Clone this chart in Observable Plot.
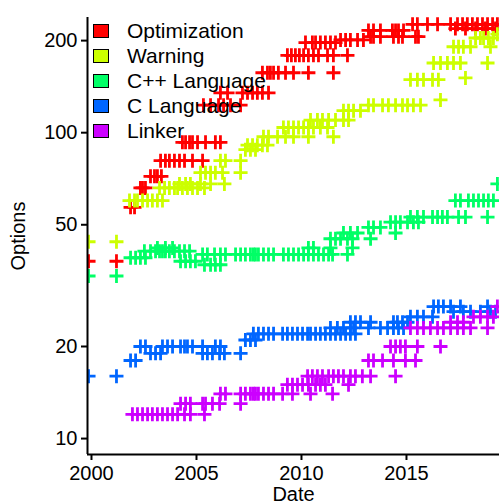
<!DOCTYPE html>
<html><head><meta charset="utf-8">
<script src="https://cdn.jsdelivr.net/npm/d3@7"></script>
<script src="https://cdn.jsdelivr.net/npm/@observablehq/plot@0.6"></script>
<style>
body{margin:0;background:#fff;}
#wrap{position:relative;width:499px;height:504px;font-family:"Liberation Sans",Arial,sans-serif;}
#legend{position:absolute;left:93px;top:18px;}
.row{display:flex;align-items:center;height:25px;font-size:21px;color:#000;line-height:25px;}
.sw{width:14px;height:12px;border:1px solid #000;margin-right:18px;}
</style></head><body><div id="wrap"><div id="legend"></div></div>
<script>
const categories = ["Optimization","Warning","C++ Language","C Language","Linker"];
const colors = ["#FF0000","#CCFF00","#00FF66","#0066FF","#CC00FF"];
const xTicks = [2000,2005,2010,2015];
const yTicks = [10,20,50,100,200];

const optimization = [
 [1999.86,38],[2001.19,38],[2001.86,57],[2002.05,57],
 [2002.33,66],[2002.43,66],[2002.57,66],
 [2002.81,72],[2003.00,72],[2003.14,72],[2003.33,72],
 [2003.29,81],[2003.52,81],[2003.71,81],[2003.95,81],[2004.19,81],[2004.43,81],[2004.81,81],[2005.29,81],
 [2004.33,93],[2004.48,93],[2004.67,93],[2004.81,93],[2005.05,93],[2005.43,93],[2005.90,93],[2006.14,93],
 [2005.33,123],[2005.67,123],[2006.05,123],[2006.29,123],[2006.62,123],[2007.10,123],
 [2006.14,135],[2006.48,135],[2007.19,135],[2007.43,135],[2007.67,135],[2007.90,135],[2008.14,135],[2008.43,135],
 [2008.14,157],[2008.38,157],[2008.52,157],[2008.67,157],[2008.90,157],[2009.24,157],[2009.62,157],[2010.33,157],[2011.52,157],
 [2009.33,179],[2009.52,179],[2009.71,179],[2009.90,179],[2010.10,179],[2010.33,179],[2010.57,179],[2010.81,179],[2011.24,179],[2011.52,179],[2012.19,179],
 [2010.19,197],[2010.52,197],[2010.67,197],[2010.90,197],[2011.14,197],[2011.38,197],[2011.62,197],
 [2011.86,201],[2012.10,201],[2012.33,201],[2012.67,201],[2012.95,201],
 [2013.29,206],[2013.43,206],[2013.76,206],[2014.38,206],[2014.62,206],[2014.81,206],[2015.43,206],[2015.57,206],
 [2013.19,216],[2013.43,216],[2013.76,216],[2014.33,216],[2014.48,216],[2014.62,216],[2014.86,216],
 [2015.29,226],[2015.52,226],[2016.00,226],[2016.48,226],[2017.10,226],[2017.43,226],[2017.67,226],[2017.90,226],[2018.14,226],[2018.38,226],[2018.62,226],[2018.86,226],[2019.10,226],[2019.33,226],
 [2017.33,219],[2017.81,219],[2018.29,219],[2018.76,219],[2019.24,219]
];
const warning = [
 [1999.86,44],[2001.19,44],
 [2001.81,60],[2002.05,60],[2002.19,60],[2002.43,60],[2002.67,60],[2002.90,60],[2003.14,60],[2003.38,60],
 [2003.24,66],[2003.48,66],[2003.71,66],[2003.95,66],[2004.10,66],[2004.33,66],[2004.57,66],[2004.81,66],[2005.05,66],[2005.38,66],
 [2004.19,68],[2004.48,68],[2004.71,68],[2005.19,68],[2005.67,68],[2006.33,68],
 [2005.19,74],[2005.43,74],[2005.67,74],[2005.90,74],[2006.24,74],[2007.10,74],
 [2006.14,81],[2006.38,81],[2007.10,81],
 [2007.33,88],[2007.57,88],[2007.81,88],
 [2007.43,91],[2007.67,91],[2007.90,91],[2008.14,91],[2008.38,91],
 [2008.19,97],[2008.43,97],[2008.86,97],[2009.24,97],[2009.62,97],[2010.33,97],[2011.52,97],
 [2009.14,104],[2009.38,104],[2009.62,104],[2009.86,104],[2010.10,104],[2010.33,104],[2010.57,104],[2010.90,104],[2011.24,104],
 [2010.43,110],[2010.76,110],[2011.00,110],[2011.29,110],[2011.62,110],[2012.00,110],[2012.24,110],
 [2012.00,118],[2012.24,118],[2012.48,118],[2012.81,118],
 [2013.19,123],[2013.43,123],[2013.86,123],[2014.14,123],[2014.48,123],[2014.81,123],[2015.05,123],[2015.33,123],[2015.67,123],
 [2016.62,128],
 [2015.19,149],[2015.52,149],[2015.81,149],[2016.24,149],[2016.52,149],[2017.81,151],
 [2016.29,169],[2016.62,169],[2016.95,169],[2017.24,169],[2017.57,169],[2018.86,169],
 [2017.24,191],[2017.48,191],[2017.71,191],[2018.05,191],[2019.00,191],
 [2018.29,204],[2018.52,204],[2018.67,204],[2018.90,204],[2019.14,204],[2019.33,210]
];
const cppLanguage = [
 [1999.86,34],[2001.19,34],
 [2001.86,39],[2002.10,39],[2002.33,39],[2002.57,39],
 [2002.52,41],[2002.81,41],[2003.05,41],[2003.24,41],[2003.38,41],[2003.52,41],[2003.71,41],[2003.95,41],[2004.19,41],[2004.43,41],[2004.67,41],
 [2003.14,42],[2003.52,42],[2003.86,42],
 [2004.24,38],[2004.48,38],[2004.71,38],[2004.95,38],
 [2005.38,37],[2005.67,37],[2005.90,37],[2006.14,37],
 [2005.29,40],[2005.52,40],[2005.86,40],[2006.14,40],[2006.38,40],[2006.86,40],[2007.10,40],[2007.33,40],[2007.57,40],[2007.81,40],
 [2007.71,40],[2007.95,40],[2008.19,40],[2008.43,40],[2008.67,40],[2009.14,40],[2009.38,40],[2009.62,40],[2009.86,40],[2010.10,40],[2010.33,40],[2010.57,40],[2010.81,40],[2011.05,40],[2011.29,40],[2011.48,40],
 [2010.33,42],[2010.57,42],[2011.38,42],[2012.19,40],[2012.43,42],
 [2011.38,45],[2011.62,45],[2011.86,45],[2012.19,45],[2012.43,45],
 [2012.00,47],[2012.33,47],[2012.67,47],
 [2013.19,49],[2013.43,49],[2013.76,49],[2013.29,45],
 [2014.24,51],[2014.48,51],[2014.71,51],[2015.05,51],[2015.33,51],[2015.57,51],[2014.48,47],
 [2015.19,53],[2015.52,53],[2015.81,53],[2016.24,53],[2016.48,53],[2016.71,53],[2016.95,53],[2017.48,53],[2017.81,53],[2018.86,53],
 [2017.33,60],[2017.57,60],[2017.95,60],[2018.19,60],[2018.43,60],[2018.67,60],[2018.90,60],[2019.14,60],
 [2019.33,68]
];
const cLanguage = [
 [1999.86,16],[2001.19,16],
 [2001.86,18],[2002.10,18],
 [2002.33,20],[2002.57,20],[2003.38,20],[2003.62,20],[2003.86,20],[2004.24,20],[2004.43,20],[2004.57,20],[2004.81,20],
 [2002.81,19],[2003.05,19],[2003.29,19],
 [2005.29,19],[2005.52,19],[2005.76,19],[2006.10,19],[2006.33,19],[2007.10,19],
 [2005.29,20],[2005.90,20],[2006.14,20],
 [2007.33,21],[2007.57,21],[2007.81,21],
 [2007.71,22],[2007.95,22],[2008.19,22],[2008.43,22],[2008.67,22],[2009.10,22],[2009.33,22],[2009.57,22],[2009.81,22],[2010.05,22],[2010.29,22],[2010.43,22],[2010.67,22],[2010.90,22],[2011.14,22],[2011.38,22],[2011.62,22],[2011.86,22],[2012.10,22],[2012.33,22],[2012.57,22],
 [2011.38,23],[2011.71,23],[2012.00,23],[2012.33,23],[2012.48,23],
 [2012.33,24],[2012.57,24],[2012.81,24],[2013.29,24],
 [2013.19,23],[2013.76,23],[2014.10,23],[2014.38,23],[2014.62,23],[2014.86,23],
 [2014.38,24],[2014.57,24],[2014.81,24],[2015.05,24],
 [2015.19,25],[2015.52,25],[2015.81,25],[2016.24,25],
 [2016.29,27],[2016.52,27],[2016.76,27],[2017.10,27],[2017.57,27],[2018.86,27],
 [2017.24,26],[2017.71,26],[2018.05,26],[2018.52,26],[2019.00,26],[2019.24,26]
];
const linker = [
 [2001.95,12],[2002.19,12],[2002.43,12],[2002.67,12],[2002.90,12],[2003.14,12],[2003.38,12],[2003.62,12],[2003.86,12],[2004.10,12],[2004.43,12],[2004.71,12],[2005.38,12],
 [2004.24,13],[2004.48,13],[2004.71,13],[2005.29,13],[2005.43,13],[2005.76,13],[2006.10,13],[2007.10,13],
 [2006.14,14],[2006.38,14],[2007.10,14],[2007.33,14],[2007.57,14],[2007.81,14],
 [2007.71,14],[2007.95,14],[2008.19,14],[2008.43,14],[2008.67,14],[2009.10,14],[2009.57,14],[2010.43,14],[2011.48,14],
 [2009.33,15],[2009.57,15],[2009.81,15],[2010.05,15],[2010.33,15],[2010.67,15],[2010.90,15],[2011.14,15],[2012.24,15],
 [2010.29,16],[2010.52,16],[2010.76,16],[2011.00,16],[2011.29,16],[2011.52,16],[2011.76,16],[2012.00,16],[2012.33,16],[2012.57,16],[2012.90,16],[2013.29,16],[2014.48,16],
 [2013.19,18],[2013.43,18],[2013.86,18],[2014.38,18],[2014.95,18],[2015.43,18],
 [2014.24,20],[2014.48,20],[2014.71,20],[2014.95,20],[2015.52,20],[2016.62,20],
 [2015.19,23],[2015.52,23],[2015.81,23],[2016.14,23],[2016.48,23],[2016.76,23],[2017.10,23],[2017.43,23],[2017.71,23],[2018.05,23],[2018.86,23],
 [2017.10,24],[2017.43,24],[2017.71,24],
 [2018.19,25],[2018.52,25],[2018.86,25],[2019.14,25],
 [2019.33,27]
];

const seriesList = [optimization, warning, cppLanguage, cLanguage, linker];
const data = seriesList.flatMap((s, i) => s.map(([date, value]) => ({date, value, category: categories[i]})));

const plusSymbol = {
  draw(context, size) {
    const r = Math.sqrt(size / Math.PI);
    context.moveTo(-r, 0); context.lineTo(r, 0);
    context.moveTo(0, -r); context.lineTo(0, r);
  }
};

const xDomain = [1999.81, 2019.43];
const yDomain = [8.87, 238];
const font = '"Liberation Sans", Arial, sans-serif';

const chart = Plot.plot({
  width: 499, height: 504,
  marginLeft: 87, marginRight: 0, marginTop: 17, marginBottom: 50,
  style: {fontFamily: font, fontSize: "20px", color: "#000", background: "transparent", overflow: "visible"},
  x: {domain: xDomain, label: null},
  y: {type: "log", domain: yDomain, label: null},
  color: {domain: categories, range: colors},
  marks: [
    Plot.dot(data, {x: "date", y: "value", stroke: "category", symbol: plusSymbol, r: 7, strokeWidth: 2.8, fill: "none", clip: true}),
    Plot.ruleX([xDomain[0]], {stroke: "#000", strokeWidth: 2}),
    Plot.ruleY([yDomain[0]], {stroke: "#000", strokeWidth: 2}),
    Plot.axisX({ticks: xTicks, tickFormat: "d", tickSize: 6, tickPadding: 5, strokeWidth: 2, label: null, fontSize: 20}),
    Plot.axisY({ticks: yTicks, tickFormat: "d", tickSize: 6, tickPadding: 4, strokeWidth: 2, label: null, fontSize: 20}),
    Plot.text(["Options"], {frameAnchor: "left", dx: -69, rotate: -90, textAnchor: "middle", lineAnchor: "middle", fontSize: 20, fill: "#000"}),
    Plot.text(["Date"], {frameAnchor: "bottom", dy: 40, textAnchor: "middle", lineAnchor: "middle", fontSize: 20, fill: "#000"})
  ]
});
const wrap = document.getElementById("wrap");
wrap.insertBefore(chart, wrap.firstChild);

const legend = document.getElementById("legend");
categories.forEach((c, i) => {
  const row = document.createElement("div");
  row.className = "row";
  const sw = document.createElement("div");
  sw.className = "sw";
  sw.style.background = colors[i];
  const t = document.createElement("span");
  t.textContent = c;
  row.appendChild(sw); row.appendChild(t);
  legend.appendChild(row);
});
</script></body></html>
